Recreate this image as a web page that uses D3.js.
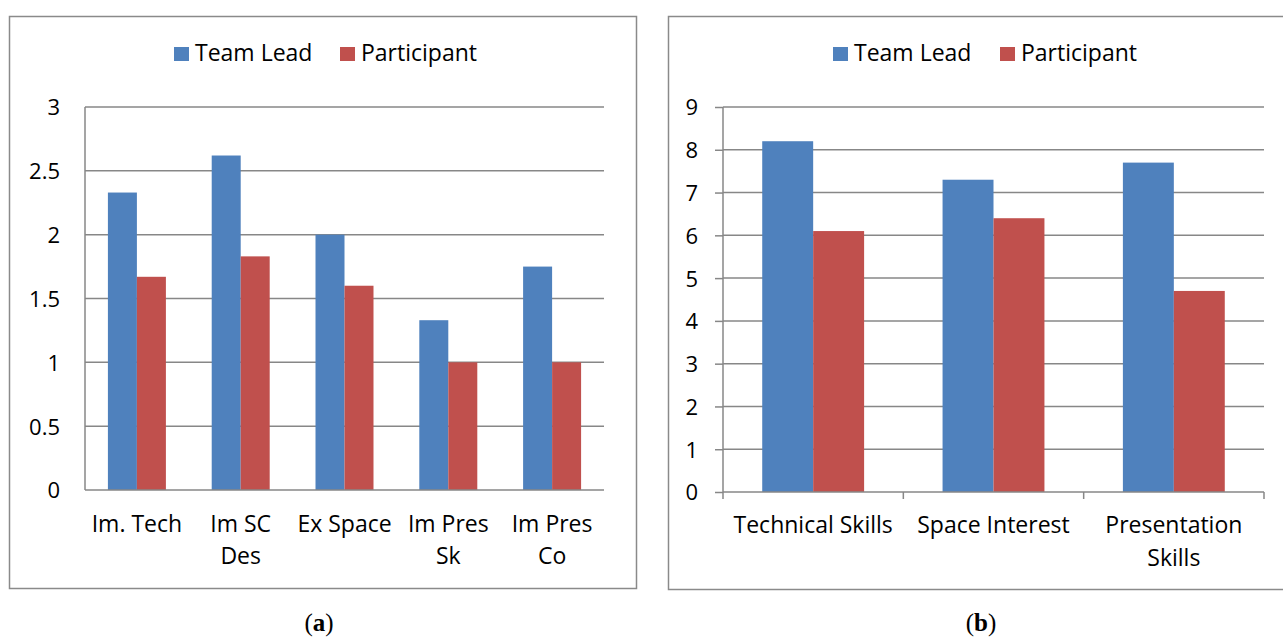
<!DOCTYPE html>
<html>
<head>
<meta charset="utf-8">
<script src="https://cdn.jsdelivr.net/npm/d3@7"></script>
<style>
html,body{margin:0;padding:0;background:#fff;}
svg{display:block;}
text{font-family:"Open Sans",Lato,sans-serif;fill:#000;}
</style>
</head>
<body>
<svg id="c" width="1283" height="637"></svg>
<script>
const seriesNames = ["Team Lead", "Participant"];
const colors = ["#4F81BD", "#C0504D"];

const catsA = [["Im. Tech"], ["Im SC", "Des"], ["Ex Space"], ["Im Pres", "Sk"], ["Im Pres", "Co"]];
const teamLeadA = [2.33, 2.62, 2.0, 1.33, 1.75];
const participantA = [1.67, 1.83, 1.6, 1.0, 1.0];
const ticksA = [0, 0.5, 1, 1.5, 2, 2.5, 3];

const catsB = [["Technical Skills"], ["Space Interest"], ["Presentation", "Skills"]];
const teamLeadB = [8.2, 7.3, 7.7];
const participantB = [6.1, 6.4, 4.7];
const ticksB = [0, 1, 2, 3, 4, 5, 6, 7, 8, 9];

const svg = d3.select("#c");
const grid = "#878787";

function panel(cfg) {
  const g = svg.append("g");
  g.append("rect").attr("x", cfg.box[0] + 0.5).attr("y", cfg.box[1] + 0.5)
    .attr("width", cfg.box[2] - cfg.box[0]).attr("height", cfg.box[3] - cfg.box[1])
    .attr("fill", "none").attr("stroke", "#8a8a8a").attr("stroke-width", 1.5);

  const labels = cfg.cats.map(c => c.join(" "));
  const x = d3.scaleBand().domain(labels).range([cfg.x0, cfg.x1]).padding(0);
  const xs = d3.scaleBand().domain(seriesNames).range([0, x.bandwidth()]).paddingInner(0).paddingOuter(cfg.po);
  const y = d3.scaleLinear().domain([cfg.ticks[0], cfg.ticks[cfg.ticks.length - 1]]).range([cfg.y0, cfg.y1]);

  const ax = d3.axisLeft(y).tickValues(cfg.ticks).tickSize(cfg.tickOut).tickFormat(d3.format("~g"));
  const ga = g.append("g").attr("transform", `translate(${cfg.x0},0)`).call(ax);
  ga.select(".domain").remove();
  ga.selectAll(".tick line").attr("stroke", grid).attr("stroke-width", 1.5);
  ga.selectAll(".tick text").attr("x", -(cfg.labelGap)).attr("dy", "0.36em")
    .style("font-size", "22px").attr("fill", "#000");
  g.append("g").selectAll("line").data(cfg.ticks.filter(t => t !== 0)).join("line")
    .attr("x1", cfg.x0).attr("x2", cfg.x1)
    .attr("y1", d => y(d)).attr("y2", d => y(d))
    .attr("stroke", grid).attr("stroke-width", 1.5);

  const data = labels.map((l, i) => ({l, v: [cfg.s1[i], cfg.s2[i]]}));
  const grp = g.append("g").selectAll("g").data(data).join("g")
    .attr("transform", d => `translate(${x(d.l)},0)`);
  grp.selectAll("rect").data(d => d.v.map((v, k) => ({v, k}))).join("rect")
    .attr("x", d => xs(seriesNames[d.k]))
    .attr("width", xs.bandwidth())
    .attr("y", d => y(d.v))
    .attr("height", d => y(0) - y(d.v))
    .attr("fill", d => colors[d.k]);

  g.append("line").attr("x1", cfg.x0).attr("x2", cfg.x1).attr("y1", y(0)).attr("y2", y(0))
    .attr("stroke", grid).attr("stroke-width", 1.5);
  g.append("line").attr("x1", cfg.x0).attr("x2", cfg.x0).attr("y1", y(cfg.ticks[cfg.ticks.length - 1])).attr("y2", y(0) + cfg.xTick)
    .attr("stroke", grid).attr("stroke-width", 1.5);
  if (cfg.xTick > 0) {
    g.append("g").selectAll("line").data(labels).join("line")
      .attr("x1", d => x(d) + x.bandwidth()).attr("x2", d => x(d) + x.bandwidth())
      .attr("y1", y(0)).attr("y2", y(0) + cfg.xTick)
      .attr("stroke", grid).attr("stroke-width", 1.5);
  }

  const lt = g.append("g").selectAll("text").data(cfg.cats).join("text")
    .attr("text-anchor", "middle").style("font-size", "23px")
    .attr("transform", (d, i) => `translate(${x(labels[i]) + x.bandwidth() / 2},${cfg.labY})`);
  lt.selectAll("tspan").data(d => d).join("tspan")
    .attr("x", 0).attr("y", (d, j) => j * cfg.lineH).text(d => d);

  const lg = g.append("g");
  seriesNames.forEach((n, k) => {
    lg.append("rect").attr("x", cfg.leg[k]).attr("y", 47).attr("width", 15).attr("height", 14).attr("fill", colors[k]);
    lg.append("text").attr("x", cfg.leg[k] + 21).attr("y", 61).style("font-size", "23px").text(n);
  });

  const cap = svg.append("text").attr("x", cfg.capX).attr("y", 631).attr("text-anchor", "middle")
    .style("font-family", "'Liberation Serif','Times New Roman',serif").style("font-size", "25px");
  cap.append("tspan").text("(");
  cap.append("tspan").style("font-weight", "bold").text(cfg.capLetter);
  cap.append("tspan").text(")");
}

panel({
  box: [9, 16, 636, 588], cats: catsA, s1: teamLeadA, s2: participantA, ticks: ticksA,
  x0: 85, x1: 604, y0: 490, y1: 107, po: 0.79, tickOut: 0, labelGap: 25, xTick: 0,
  labY: 532, lineH: 32, leg: [174, 340], capX: 319, capLetter: "a"
});
panel({
  box: [668, 16, 1295, 589], cats: catsB, s1: teamLeadB, s2: participantB, ticks: ticksB,
  x0: 723, x1: 1264, y0: 492, y1: 107, po: 0.77, tickOut: 8, labelGap: 25, xTick: 7,
  labY: 533, lineH: 33, leg: [833, 1000], capX: 981, capLetter: "b"
});
</script>
</body>
</html>
